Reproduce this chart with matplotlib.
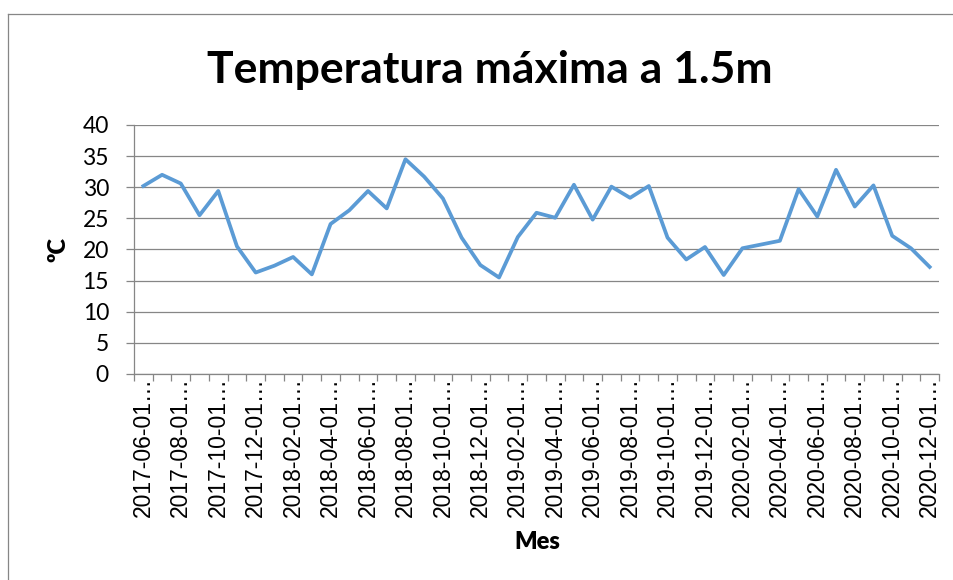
import numpy as np
import pandas as pd
import matplotlib
matplotlib.use("Agg")
import matplotlib.pyplot as plt
from matplotlib.lines import Line2D

# monthly max temperature at 1.5 m
months = pd.date_range("2017-06-01", "2020-12-01", freq="MS").strftime("%Y-%m-%d").tolist()
tmax = [30.2, 32.0, 30.6, 25.5, 29.4, 20.5, 16.3, 17.4, 18.8, 16.0,
        24.1, 26.3, 29.4, 26.6, 34.5, 31.7, 28.2, 21.9, 17.5, 15.5,
        22.0, 25.9, 25.1, 30.4, 24.8, 30.1, 28.3, 30.2, 21.9, 18.4,
        20.4, 15.9, 20.2, 20.8, 21.4, 29.7, 25.3, 32.8, 26.9, 30.3,
        22.2, 20.2, 17.2]
yticks = [0, 5, 10, 15, 20, 25, 30, 35, 40]

LINE = "#5B9BD5"
GRID = "#868686"

W, H = 954, 580
fig = plt.figure(figsize=(W / 100, H / 100), dpi=100)
ax = fig.add_axes([134 / W, 1 - 374 / H, (939 - 134) / W, (374 - 125) / H])

x = np.arange(len(tmax))
ax.plot(x, tmax, color=LINE, lw=2.7, solid_joinstyle="round", zorder=3)

ax.set_xlim(-0.5, len(tmax) - 0.5)
ax.set_ylim(0, 40)
ax.set_yticks(yticks)
ax.yaxis.grid(True, color=GRID, lw=0.9)
ax.set_axisbelow(True)

# category ticks between points, labels every second month
ax.set_xticks(np.arange(-0.5, len(tmax)), minor=True)
ax.set_xticks(x[::2])
ax.set_xticklabels([m + "\u2026" for m in months[::2]], rotation=90,
                   family="Liberation Sans", fontsize=16.5, va="top", ha="center")
ax.tick_params(axis="x", which="major", length=0, pad=2)
ax.tick_params(axis="x", which="minor", length=5, color=GRID, width=0.9)
ax.tick_params(axis="y", length=6, color=GRID, width=0.9, pad=12, labelsize=16.5)
for lbl in ax.get_yticklabels():
    lbl.set_family("Lato")

for s in ("top", "right"):
    ax.spines[s].set_visible(False)
for s in ("left", "bottom"):
    ax.spines[s].set_color(GRID)
    ax.spines[s].set_linewidth(0.9)

fig.text(490 / W, 1 - 70 / H, "Temperatura máxima a 1.5m", family="Lato",
         fontweight="bold", fontsize=32, ha="center", va="center")
fig.text(58 / W, 1 - 250 / H, "ºC", family="Lato", fontweight="heavy",
         fontsize=17, rotation=90, ha="center", va="center")
fig.text(537 / W, 1 - 542 / H, "Mes", family="Lato", fontweight="heavy",
         fontsize=17, ha="center", va="center")

# chart frame (clipped on right and bottom)
fig.add_artist(Line2D([8.5 / W, 8.5 / W], [1 - 13.5 / H, 0], color=GRID, lw=0.9))
fig.add_artist(Line2D([8.5 / W, 1], [1 - 13.5 / H, 1 - 13.5 / H], color=GRID, lw=0.9))

fig.savefig("out.png", dpi=100, facecolor="white")
